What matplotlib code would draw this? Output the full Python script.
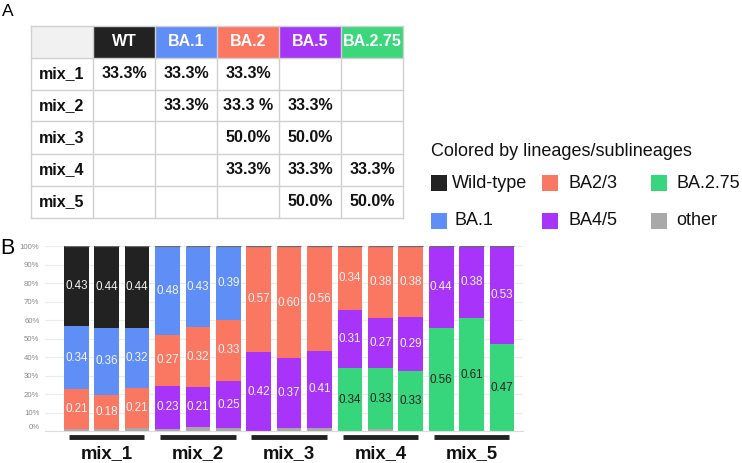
#!/usr/bin/env python
# -*- coding: utf-8 -*-
import numpy as np
import matplotlib
matplotlib.use("Agg")
import matplotlib.pyplot as plt
import matplotlib.transforms as mtrans
from matplotlib.patches import Rectangle

plt.rcParams['font.family'] = ['Liberation Sans', 'DejaVu Sans']

# ---- panel A table ----
table_cols = ["WT", "BA.1", "BA.2", "BA.5", "BA.2.75"]
table_rows = ["mix_1", "mix_2", "mix_3", "mix_4", "mix_5"]
table_cells = [
    ["33.3%", "33.3%", "33.3%", "", ""],
    ["", "33.3%", "33.3 %", "33.3%", ""],
    ["", "", "50.0%", "50.0%", ""],
    ["", "", "33.3%", "33.3%", "33.3%"],
    ["", "", "", "50.0%", "50.0%"],
]
header_colors = ["#222222", "#5f8ef6", "#fb7762", "#a536f6", "#3cd67d"]

# ---- panel B stacked bars (bottom -> top) ----
mixes = ["mix_1", "mix_2", "mix_3", "mix_4", "mix_5"]
other = [.012, .012, .018, .012, .024, .018, .004, .02, .02, 0, .012, 0, 0, 0, 0]
ba275 = [0, 0, 0, 0, 0, 0, 0, 0, 0, .342, .33, .328, .558, .614, .472]
ba45 = [0, 0, 0, .234, .214, .252, .422, .374, .414, .314, .272, .29, .44, .384, .528]
ba23 = [.214, .184, .214, .274, .324, .334, .574, .604, .564, .344, .384, .38, 0, 0, 0]
ba1 = [.344, .364, .324, .48, .434, .394, 0, 0, 0, 0, 0, 0, 0, 0, 0]
wt = [.43, .44, .444, 0, 0, 0, 0, 0, 0, 0, 0, 0, 0, 0, 0]

series = [
    ("other", other, "#a9a9a9"),
    ("BA.2.75", ba275, "#37d67d"),
    ("BA4/5", ba45, "#a734f8"),
    ("BA2/3", ba23, "#fa7762"),
    ("BA.1", ba1, "#5f8ef6"),
    ("Wild-type", wt, "#222222"),
]
legend_order = [("Wild-type", "#222222"), ("BA2/3", "#fa7762"), ("BA.2.75", "#37d67d"),
                ("BA.1", "#5f8ef6"), ("BA4/5", "#a734f8"), ("other", "#a9a9a9")]

W, H = 742, 463
fig = plt.figure(figsize=(W / 100, H / 100), dpi=100)


def fx(x):
    return x / W


def fy(y):
    return 1 - y / H


# panel labels
fig.text(fx(1.5), fy(15.5), "A", fontsize=12.5, va="baseline")
fig.text(fx(0), fy(254), "B", fontsize=15.5, va="baseline")

# table
x0, y0, cw, rh = 31, 25.5, 62.05, 32
ncol = len(table_cols) + 1
nrow = len(table_rows) + 1
line_col = "#d0d0d0"
fig.add_artist(Rectangle((fx(x0), fy(y0 + rh)), cw / W, rh / H,
                         transform=fig.transFigure, facecolor="#f1f1f1",
                         edgecolor="none"))
for j, (name, c) in enumerate(zip(table_cols, header_colors)):
    xl = x0 + (j + 1) * cw
    fig.add_artist(Rectangle((fx(xl), fy(y0 + rh)), cw / W, rh / H,
                             transform=fig.transFigure, facecolor=c,
                             edgecolor="none"))
    fig.text(fx(xl + cw / 2), fy(y0 + rh / 2), name, color="white",
             fontsize=11.5, fontweight="bold", ha="center", va="center")
for i, (rname, vals) in enumerate(zip(table_rows, table_cells)):
    yc = y0 + (i + 1.5) * rh
    fig.text(fx(x0 + 8), fy(yc), rname, fontsize=11.5, fontweight="bold",
             ha="left", va="center", color="#111111")
    for j, v in enumerate(vals):
        if v:
            fig.text(fx(x0 + (j + 1.5) * cw), fy(yc), v, fontsize=11.5,
                     fontweight="bold", ha="center", va="center",
                     color="#111111")
for i in range(nrow + 1):
    yy = fy(y0 + i * rh)
    fig.add_artist(plt.Line2D([fx(x0), fx(x0 + ncol * cw)], [yy, yy],
                              color=line_col, lw=1))
for j in range(ncol + 1):
    xx = fx(x0 + j * cw)
    fig.add_artist(plt.Line2D([xx, xx], [fy(y0), fy(y0 + nrow * rh)],
                              color=line_col, lw=1))

# legend
fig.text(fx(431), fy(156), "Colored by lineages/sublineages", fontsize=13,
         va="baseline", color="#111111")
sq_x = [431, 541.7, 651]
sq_y = [175.3, 212.7]
txt_x = [[451.7, 569, 676.7], [455, 569, 676]]
for k, (lab, c) in enumerate(legend_order):
    r, cc = divmod(k, 3)
    fig.add_artist(Rectangle((fx(sq_x[cc]), fy(sq_y[r] + 16)), 16 / W, 16 / H,
                             transform=fig.transFigure, facecolor=c,
                             edgecolor="none"))
    fig.text(fx(txt_x[r][cc]), fy(sq_y[r] + 8), lab, fontsize=13,
             va="center", color="#111111")

# bar chart
ax = fig.add_axes([fx(45), fy(431.3), (523 - 45) / W, 185 / H])
x = np.arange(len(other))
bw = 0.81
bottom = np.zeros(len(x))
for name, vals, c in series:
    vals = np.array(vals)
    ax.bar(x, vals, bw, bottom=bottom, color=c, zorder=2)
    for xi, b, v in zip(x, bottom, vals):
        if v >= 0.05:
            tc = "#222222" if name == "BA.2.75" else "#f4f4f4"
            ax.text(xi, b + v / 2, "%.2f" % v, ha="center", va="center",
                    fontsize=8.4, color=tc, zorder=3)
    bottom += vals
ax.hlines(np.ones(len(x)), x - bw / 2, x + bw / 2, color="#6a6a6a", lw=0.9,
          zorder=3)

ax.set_xlim(-1.03, 14.69)
ax.set_ylim(0, 1)
ticks = np.round(np.arange(0, 1.01, 0.1), 1)
ax.set_yticks(ticks)
ax.set_yticklabels(["%d%%" % round(t * 100) for t in ticks])
ax.tick_params(axis="y", length=0, pad=4, labelsize=5.6, labelcolor="#888888")
ax.get_yticklabels()[0].set_va("bottom")
ax.set_xticks([])
ax.yaxis.grid(True, color="#ebebeb", lw=0.8)
ax.set_axisbelow(True)
for s in ["top", "right", "left"]:
    ax.spines[s].set_visible(False)
ax.spines["bottom"].set_color("#dddddd")
ax.spines["bottom"].set_linewidth(0.8)

# group underlines and names
trans = mtrans.blended_transform_factory(ax.transData, ax.transAxes)
for g, name in enumerate(mixes):
    c = 3 * g + 1
    ax.plot([c - 1.24, c + 1.24], [-0.029, -0.029], transform=trans,
            color="#222222", lw=3.5, clip_on=False, solid_capstyle="butt")
    ax.text(c, -0.146, name, transform=trans, ha="center", va="baseline",
            fontsize=13.3, fontweight="bold", color="#111111")

fig.savefig("out.png", dpi=100)
plt.close()
